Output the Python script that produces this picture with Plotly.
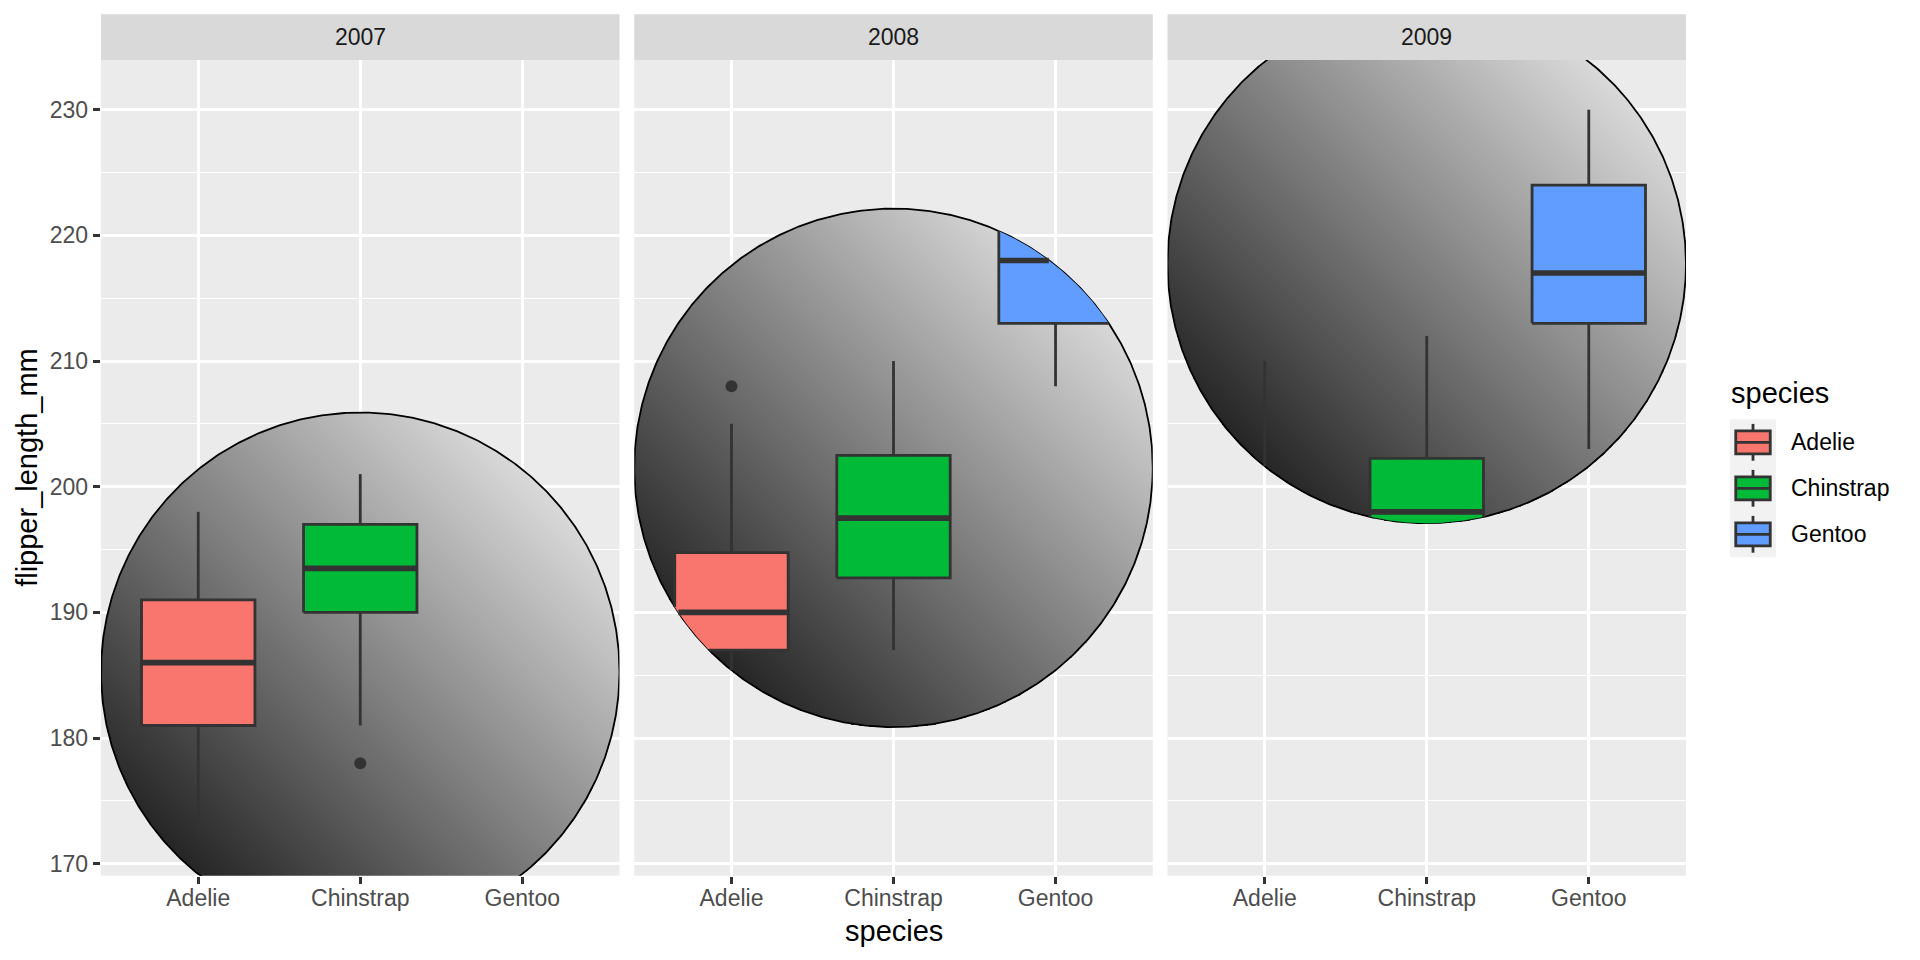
import numpy as np
import plotly.graph_objects as go

# ---------------- data ----------------
years = ["2007", "2008", "2009"]
species = ["Adelie", "Chinstrap", "Gentoo"]
species_colors = ["#F8766D", "#00BA38", "#619CFF"]

whisker_low = {"2007": [172, 181, 208], "2008": [178, 187, 208], "2009": [178, 187, 203]}
box_q1 = {"2007": [181, 190, 212], "2008": [187, 192.75, 213], "2009": [186, 195, 213]}
box_median = {"2007": [186, 193.5, 216], "2008": [190, 197.5, 218], "2009": [191, 198, 217]}
box_q3 = {"2007": [191, 197, 220], "2008": [194.75, 202.5, 222], "2009": [195, 202.25, 224]}
whisker_high = {"2007": [198, 201, 230], "2008": [205, 210, 231], "2009": [210, 212, 230]}
outlier_values = {"2007": [[], [178], []], "2008": [[208], [], []], "2009": [[], [], []]}

y_ticks = [170, 180, 190, 200, 210, 220, 230]
circle_center_npc = {"2007": 0.25, "2008": 0.5, "2009": 0.75}

# ---------------- geometry ----------------
W, H = 1920, 960
PANEL_LEFT = [101.0, 634.25, 1167.5]
PANEL_W = 518.5
PANEL_TOP = 60.0
PANEL_BOTTOM = 875.7
STRIP_TOP = 14.3
BOX_WIDTH = 0.7
FONT = "Liberation Sans, Arial, sans-serif"

X_RANGE = [0.4, 3.6]
all_vals = sum(whisker_low.values(), []) + sum(whisker_high.values(), [])
for yr in years:
    for o in outlier_values[yr]:
        all_vals += o
dmin, dmax = min(all_vals), max(all_vals)
pad = 0.05 * (dmax - dmin)
YMIN, YMAX = dmin - pad, dmax + pad

px_per_y = (PANEL_BOTTOM - PANEL_TOP) / (YMAX - YMIN)
RX = (X_RANGE[1] - X_RANGE[0]) / 2.0
RY = (PANEL_W / 2.0) / px_per_y
CX = (X_RANGE[0] + X_RANGE[1]) / 2.0


def inside(x, y, cy):
    return ((x - CX) / RX) ** 2 + ((y - cy) / RY) ** 2 <= 1.0


def clipped_path(xs, ys, cy, closed=False):
    xs = np.asarray(xs, float)
    ys = np.asarray(ys, float)
    m = inside(xs, ys, cy)
    if m.all():
        return list(xs), list(ys)
    if closed and (~m).any():
        k = int(np.argmax(~m))
        xs = np.roll(xs, -k)
        ys = np.roll(ys, -k)
        m = np.roll(m, -k)
    ox, oy = [], []
    prev = False
    for x, y, ok in zip(xs, ys, m):
        if ok:
            ox.append(float(x))
            oy.append(float(y))
        elif prev:
            ox.append(None)
            oy.append(None)
        prev = ok
    return ox, oy


def seg(p0, p1, n=400):
    return np.linspace(p0[0], p1[0], n), np.linspace(p0[1], p1[1], n)


fig = go.Figure()
N = 450

for i, yr in enumerate(years):
    xa = "x" if i == 0 else f"x{i+1}"
    ya = "y" if i == 0 else f"y{i+1}"
    cy = YMIN + circle_center_npc[yr] * (YMAX - YMIN)

    # gradient circle (linear gradient black -> white, bottom-left to top-right)
    gx = np.linspace(CX - RX, CX + RX, N)
    gy = np.linspace(cy - RY, cy + RY, N)
    GX, GY = np.meshgrid(gx, gy)
    T = ((GX - (CX - RX)) / (2 * RX) + (GY - (cy - RY)) / (2 * RY)) / 2.0
    mask = inside(GX, GY, cy)
    Z = [[(round(float(t), 3) if ok else None) for t, ok in zip(rt, rm)] for rt, rm in zip(T, mask)]
    fig.add_trace(go.Heatmap(x=gx, y=gy, z=Z, zmin=0, zmax=1,
                             colorscale=[[0, "#000000"], [1, "#FFFFFF"]],
                             showscale=False, hoverinfo="skip", xaxis=xa, yaxis=ya))
    th = np.linspace(0, 2 * np.pi, 721)
    fig.add_trace(go.Scatter(x=CX + RX * np.cos(th), y=cy + RY * np.sin(th), mode="lines",
                             line=dict(color="#000000", width=1.8), hoverinfo="skip",
                             showlegend=False, xaxis=xa, yaxis=ya))

    for j, sp in enumerate(species):
        xc = j + 1
        x0, x1 = xc - BOX_WIDTH / 2, xc + BOX_WIDTH / 2
        q1, med, q3 = box_q1[yr][j], box_median[yr][j], box_q3[yr][j]
        lo, hi = whisker_low[yr][j], whisker_high[yr][j]

        # outliers (masked by circle)
        ox = [xc for v in outlier_values[yr][j] if inside(xc, v, cy)]
        oy = [v for v in outlier_values[yr][j] if inside(xc, v, cy)]
        if ox:
            fig.add_trace(go.Scatter(x=ox, y=oy, mode="markers",
                                     marker=dict(color="#333333", size=12, line=dict(width=0)),
                                     hoverinfo="skip", showlegend=False, xaxis=xa, yaxis=ya))

        # whiskers
        wx, wy = [], []
        for a, b in [((xc, q3), (xc, hi)), ((xc, lo), (xc, q1))]:
            sx, sy = seg(a, b)
            px_, py_ = clipped_path(sx, sy, cy)
            if px_:
                wx += px_ + [None]
                wy += py_ + [None]
        if wx:
            fig.add_trace(go.Scatter(x=wx, y=wy, mode="lines",
                                     line=dict(color="#333333", width=2.8),
                                     hoverinfo="skip", showlegend=False, xaxis=xa, yaxis=ya))

        # box fill clipped to circle
        xs = np.linspace(x0, x1, 800)
        d = 1 - ((xs - CX) / RX) ** 2
        ok = d >= 0
        hh = np.where(ok, RY * np.sqrt(np.clip(d, 0, None)), 0)
        low = np.maximum(q1, cy - hh)
        high = np.minimum(q3, cy + hh)
        ok = ok & (low <= high)
        if ok.any():
            fx = list(xs[ok]) + list(xs[ok][::-1])
            fy = list(high[ok]) + list(low[ok][::-1])
            fig.add_trace(go.Scatter(x=fx, y=fy, mode="lines", fill="toself",
                                     fillcolor=species_colors[j], line=dict(width=0),
                                     hoverinfo="skip", showlegend=False, xaxis=xa, yaxis=ya))

        # box outline clipped
        corners = [(x0, q1), (x0, q3), (x1, q3), (x1, q1), (x0, q1)]
        rx_, ry_ = [], []
        for a, b in zip(corners[:-1], corners[1:]):
            sx, sy = seg(a, b)
            rx_ += list(sx[:-1])
            ry_ += list(sy[:-1])
        rx_.append(x0)
        ry_.append(q1)
        bx, by = clipped_path(rx_, ry_, cy, closed=True)
        if bx:
            fig.add_trace(go.Scatter(x=bx, y=by, mode="lines",
                                     line=dict(color="#333333", width=2.8),
                                     hoverinfo="skip", showlegend=False, xaxis=xa, yaxis=ya))
        # median
        sx, sy = seg((x0, med), (x1, med))
        mx, my = clipped_path(sx, sy, cy)
        if mx:
            fig.add_trace(go.Scatter(x=mx, y=my, mode="lines",
                                     line=dict(color="#333333", width=5.6),
                                     hoverinfo="skip", showlegend=False, xaxis=xa, yaxis=ya))

# ---------------- layout ----------------
minor_vals = [(a + b) / 2 for a, b in zip(y_ticks[:-1], y_ticks[1:])]
layout = dict(width=W, height=H, margin=dict(l=0, r=0, t=0, b=0),
              paper_bgcolor="#FFFFFF", plot_bgcolor="#EBEBEB", showlegend=False,
              font=dict(family=FONT, color="#000000"))
shapes, annotations = [], []
for i, yr in enumerate(years):
    left = PANEL_LEFT[i]
    xk = "xaxis" if i == 0 else f"xaxis{i+1}"
    yk = "yaxis" if i == 0 else f"yaxis{i+1}"
    layout[xk] = dict(domain=[left / W, (left + PANEL_W) / W], range=X_RANGE,
                      anchor="y" if i == 0 else f"y{i+1}",
                      tickmode="array", tickvals=[1, 2, 3], ticktext=species,
                      showgrid=True, gridcolor="#FFFFFF", gridwidth=2.6,
                      ticks="outside", ticklen=7.3, tickwidth=2.6, tickcolor="#333333",
                      ticklabelstandoff=-6,
                      tickfont=dict(family=FONT, size=23, color="#4D4D4D"),
                      zeroline=False, showline=False, fixedrange=True)
    layout[yk] = dict(domain=[1 - PANEL_BOTTOM / H, 1 - PANEL_TOP / H], range=[YMIN, YMAX],
                      anchor="x" if i == 0 else f"x{i+1}",
                      tickmode="array", tickvals=y_ticks,
                      showticklabels=(i == 0), ticks="outside" if i == 0 else "",
                      ticklen=7.3, tickwidth=2.6, tickcolor="#333333",
                      tickfont=dict(family=FONT, size=23, color="#4D4D4D"),
                      showgrid=True, gridcolor="#FFFFFF", gridwidth=2.6,
                      minor=dict(tickmode="array", tickvals=minor_vals, showgrid=True,
                                 gridcolor="#FFFFFF", gridwidth=1.3, ticks=""),
                      zeroline=False, showline=False, fixedrange=True)
    shapes.append(dict(type="rect", xref="paper", yref="paper",
                       x0=left / W, x1=(left + PANEL_W) / W,
                       y0=1 - PANEL_TOP / H, y1=1 - STRIP_TOP / H,
                       fillcolor="#D9D9D9", line=dict(width=0), layer="below"))
    annotations.append(dict(text=yr, xref="paper", yref="paper",
                            x=(left + PANEL_W / 2) / W, y=1 - ((PANEL_TOP + STRIP_TOP) / 2) / H,
                            showarrow=False, xanchor="center", yanchor="middle",
                            font=dict(family=FONT, size=23, color="#1A1A1A")))

# axis titles
annotations.append(dict(text="species", xref="paper", yref="paper",
                        x=(PANEL_LEFT[0] + PANEL_LEFT[2] + PANEL_W) / 2 / W, y=1 - 931 / H,
                        showarrow=False, xanchor="center", yanchor="middle",
                        font=dict(family=FONT, size=29, color="#000000")))
annotations.append(dict(text="flipper_length_mm", xref="paper", yref="paper",
                        x=27 / W, y=1 - ((PANEL_TOP + PANEL_BOTTOM) / 2) / H, textangle=-90,
                        showarrow=False, xanchor="center", yanchor="middle",
                        font=dict(family=FONT, size=29, color="#000000")))

# legend (ggplot style)
KEY_X, KEY_TOP, KEY = 1730.0, 419.3, 46.0
annotations.append(dict(text="species", xref="paper", yref="paper", x=1729 / W, y=1 - 393 / H,
                        showarrow=False, xanchor="left", yanchor="middle",
                        font=dict(family=FONT, size=29, color="#000000")))
shapes.append(dict(type="rect", xref="paper", yref="paper", x0=KEY_X / W, x1=(KEY_X + KEY) / W,
                   y0=1 - (KEY_TOP + 3 * KEY) / H, y1=1 - KEY_TOP / H,
                   fillcolor="#F2F2F2", line=dict(width=0), layer="above"))
for j, sp in enumerate(species):
    t = KEY_TOP + j * KEY
    bx0, bx1 = KEY_X + 0.125 * KEY, KEY_X + 0.875 * KEY
    xm = KEY_X + 0.5 * KEY
    for (ya0, ya1) in [(t + 0.1 * KEY, t + 0.25 * KEY), (t + 0.75 * KEY, t + 0.9 * KEY)]:
        shapes.append(dict(type="line", xref="paper", yref="paper", x0=xm / W, x1=xm / W,
                           y0=1 - ya0 / H, y1=1 - ya1 / H,
                           line=dict(color="#333333", width=2.8), layer="above"))
    shapes.append(dict(type="rect", xref="paper", yref="paper", x0=bx0 / W, x1=bx1 / W,
                       y0=1 - (t + 0.75 * KEY) / H, y1=1 - (t + 0.25 * KEY) / H,
                       fillcolor=species_colors[j], line=dict(color="#333333", width=2.8),
                       layer="above"))
    shapes.append(dict(type="line", xref="paper", yref="paper", x0=bx0 / W, x1=bx1 / W,
                       y0=1 - (t + 0.5 * KEY) / H, y1=1 - (t + 0.5 * KEY) / H,
                       line=dict(color="#333333", width=2.8), layer="above"))
    annotations.append(dict(text=sp, xref="paper", yref="paper", x=1789 / W,
                            y=1 - (t + 0.5 * KEY) / H, showarrow=False,
                            xanchor="left", yanchor="middle",
                            font=dict(family=FONT, size=23, color="#000000")))

layout["shapes"] = shapes
layout["annotations"] = annotations
fig.update_layout(**layout)
fig.write_html("out.html", config={"displayModeBar": False},
               post_script="document.body.style.margin='0px';document.body.style.overflow='hidden';")
